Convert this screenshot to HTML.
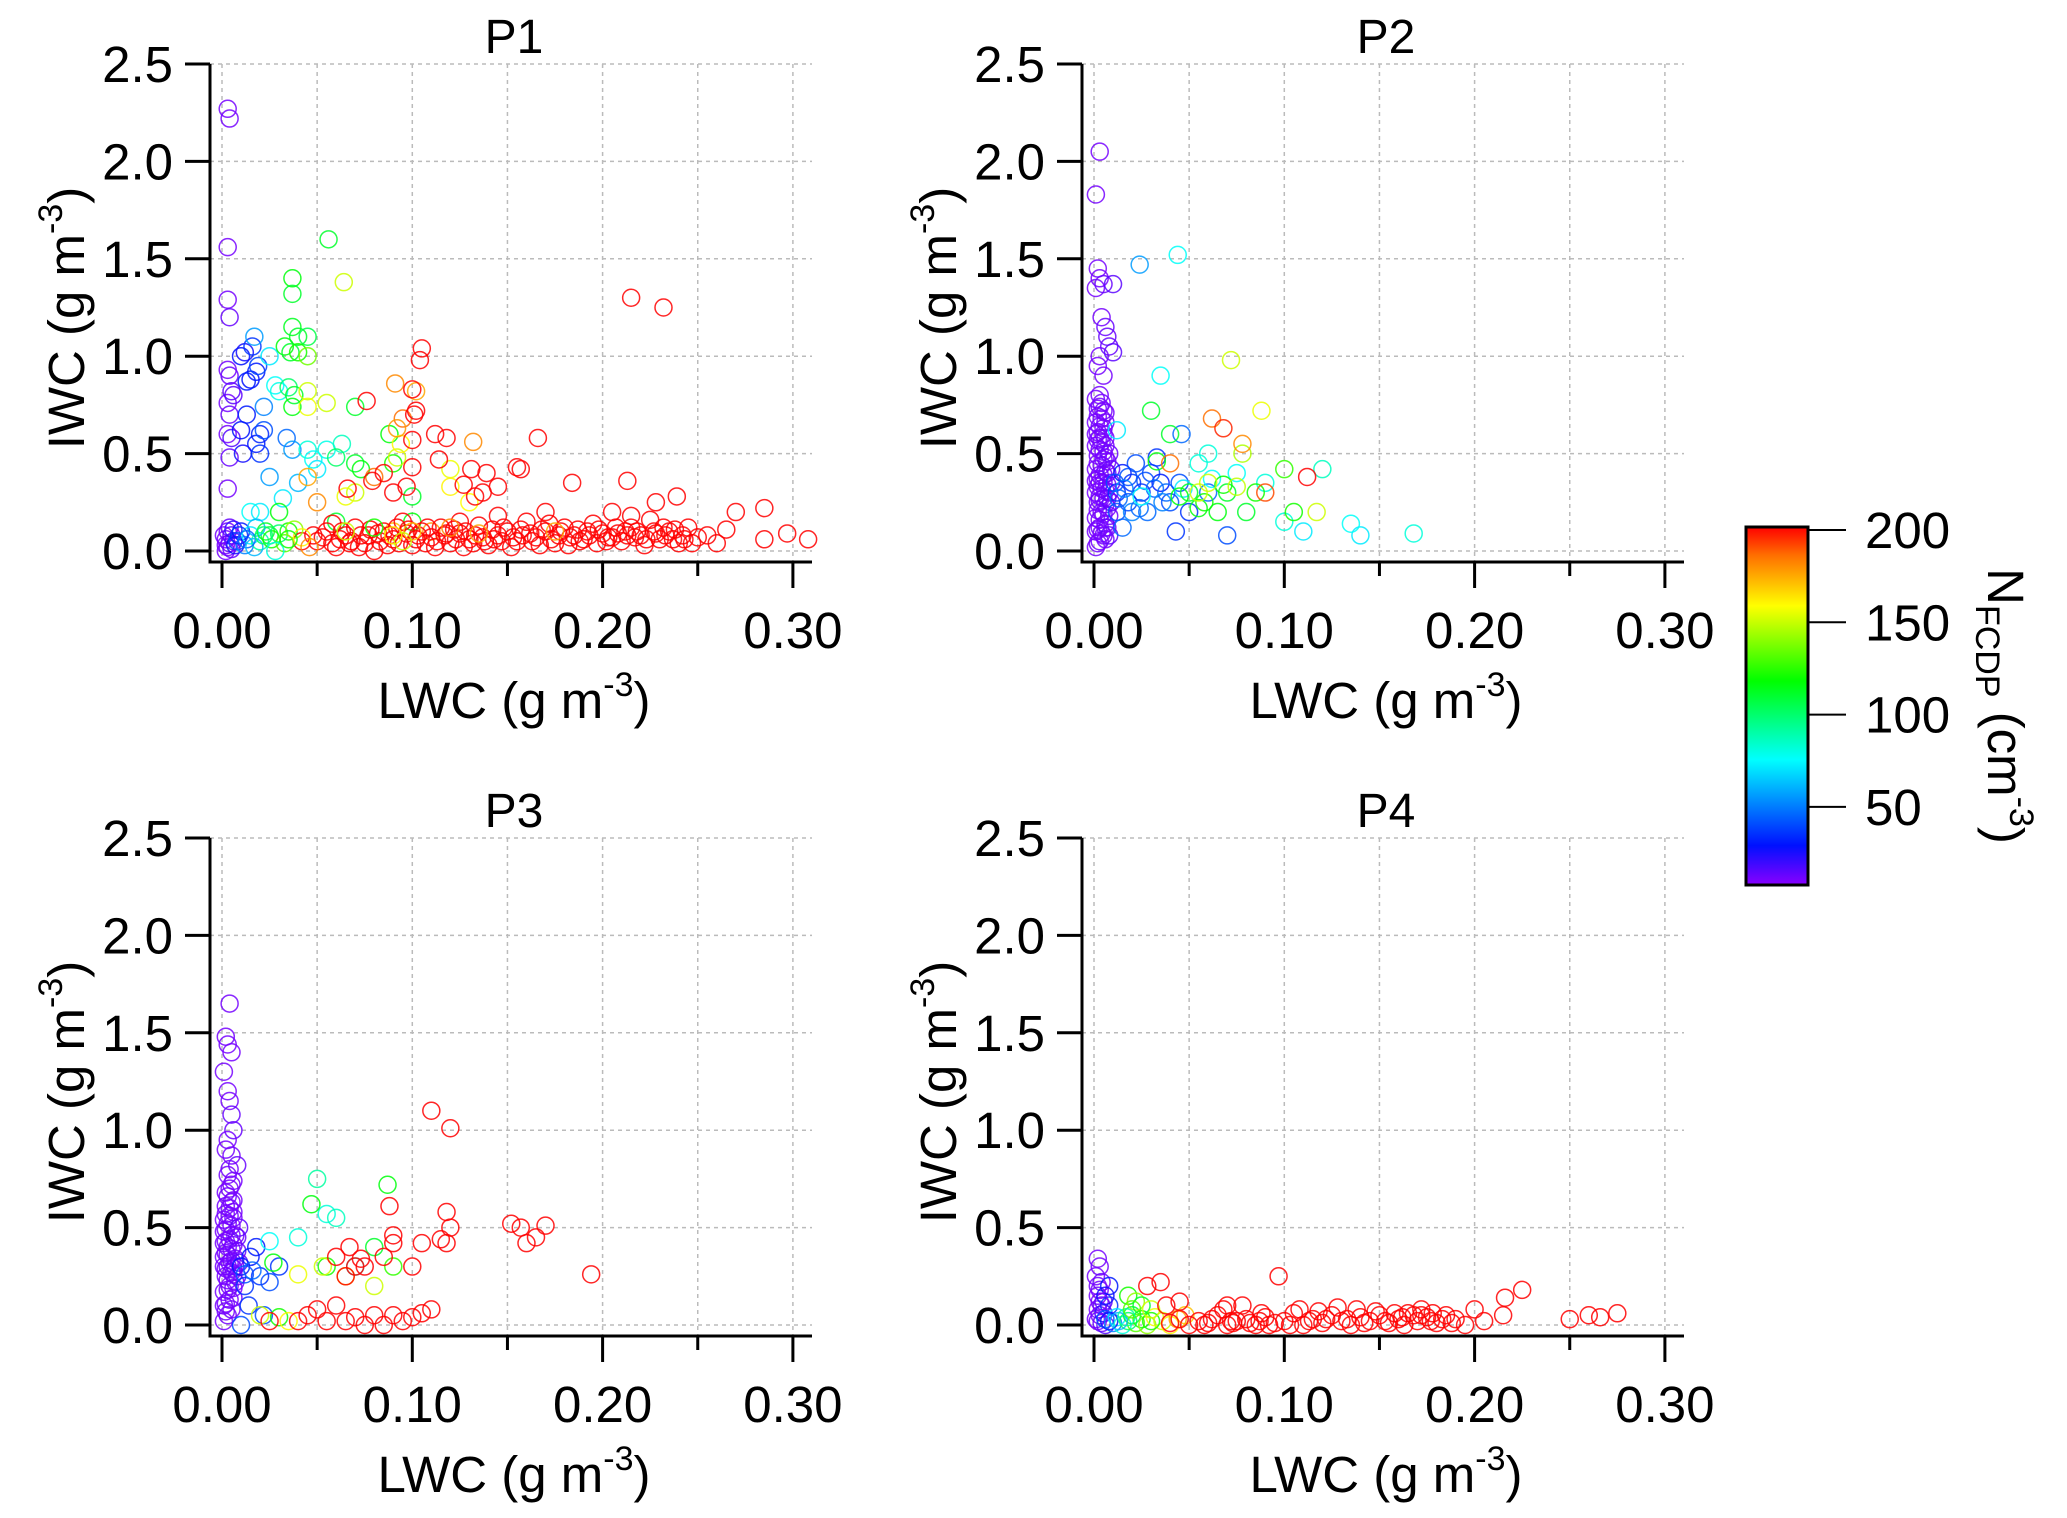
<!DOCTYPE html>
<html><head><meta charset="utf-8"><style>
html,body{margin:0;padding:0;background:#fff;}
svg{display:block;font-family:"Liberation Sans",Arial,sans-serif;}
</style></head><body>
<svg id="chart" width="2067" height="1518" viewBox="0 0 2067 1518">
<defs>
<linearGradient id="rainbow" x1="0" y1="1" x2="0" y2="0">
<stop offset="0" stop-color="#8a00ff"/><stop offset="0.11" stop-color="#0010ff"/><stop offset="0.35" stop-color="#00ffff"/><stop offset="0.57" stop-color="#00ff00"/><stop offset="0.78" stop-color="#ffff00"/><stop offset="0.92" stop-color="#ff7000"/><stop offset="1" stop-color="#ff0000"/>
</linearGradient>
</defs>
</svg>
<script>
const xTicks=[0,0.10,0.20,0.30];
const xTickLabels=["0.00","0.10","0.20","0.30"];
const xMinor=[0.05,0.15,0.25];
const yTicks=[0,0.5,1.0,1.5,2.0,2.5];
const yTickLabels=["0.0","0.5","1.0","1.5","2.0","2.5"];
const panelTitles=["P1","P2","P3","P4"];
const cbTicks=[50,100,150,200];
// points: [LWC, IWC, N_FCDP]
const p1Points=[
[0.003,2.27,10],[0.004,2.22,10],[0.003,1.56,10],[0.003,1.29,10],[0.004,1.2,12],[0.003,0.32,10],[0.004,0.48,12],[0.003,0.6,10],[0.004,0.7,12],[0.003,0.76,10],[0.005,0.82,14],[0.004,0.9,12],[0.003,0.93,10],[0.005,0.58,15],[0.006,0.8,14],
[0.010,1.0,28],[0.012,1.02,25],[0.016,1.05,35],[0.018,0.92,30],[0.015,0.88,28],[0.02,0.6,32],[0.018,0.55,30],[0.011,0.5,25],[0.01,0.62,28],[0.013,0.7,30],[0.022,0.62,40],[0.02,0.5,35],[0.019,0.95,38],[0.013,0.87,30],
[0.017,1.1,55],[0.025,1.0,70],[0.028,0.85,75],[0.03,0.82,78],[0.022,0.74,50],[0.034,0.58,45],[0.037,0.52,55],[0.025,0.38,55],[0.04,0.35,60],[0.032,0.27,70],[0.045,0.52,80],[0.048,0.47,75],[0.05,0.42,70],[0.055,0.52,78],[0.063,0.55,85],[0.02,0.2,70],[0.015,0.2,75],
[0.056,1.6,110],[0.037,1.4,115],[0.037,1.32,110],[0.037,1.15,112],[0.04,1.1,110],[0.045,1.1,105],[0.033,1.05,115],[0.036,1.02,110],[0.04,1.02,120],[0.045,1.0,135],[0.035,0.84,100],[0.038,0.8,110],[0.037,0.74,115],[0.07,0.74,110],[0.06,0.48,100],[0.07,0.45,110],[0.073,0.42,115],[0.088,0.6,115],[0.09,0.45,120],[0.03,0.2,115],[0.035,0.1,120],[0.025,0.08,110],[0.06,0.15,110],[0.1,0.15,115],[0.1,0.28,110],
[0.064,1.38,150],[0.045,0.82,150],[0.045,0.74,155],[0.055,0.76,150],[0.07,0.3,150],[0.065,0.28,155],[0.092,0.48,150],[0.12,0.42,155],[0.12,0.33,160],[0.094,0.55,160],[0.13,0.25,158],
[0.091,0.86,180],[0.102,0.82,175],[0.132,0.56,180],[0.095,0.68,185],[0.092,0.63,178],[0.045,0.38,175],[0.05,0.25,180],[0.08,0.38,185],[0.11,0.1,178],[0.09,0.1,170],
[0.215,1.3,205],[0.232,1.25,205],[0.105,1.04,205],[0.104,0.98,205],[0.1,0.83,205],[0.076,0.77,205],[0.102,0.72,205],[0.101,0.7,205],[0.1,0.57,205],[0.112,0.6,205],[0.118,0.58,205],[0.166,0.58,205],[0.157,0.42,205],[0.155,0.43,205],[0.114,0.47,205],[0.1,0.43,205],[0.131,0.42,205],[0.139,0.4,205],[0.145,0.33,205],[0.127,0.34,205],[0.097,0.33,205],[0.066,0.32,205],[0.079,0.36,205],[0.085,0.4,205],[0.184,0.35,205],[0.213,0.36,205],[0.239,0.28,205],[0.133,0.28,205],[0.137,0.3,205],[0.09,0.3,205],
[0.05,0.05,205],[0.055,0.1,205],[0.06,0.02,205],[0.065,0.08,205],[0.07,0.12,205],[0.075,0.04,205],[0.08,0.0,205],[0.085,0.1,205],[0.09,0.06,205],[0.095,0.15,205],[0.1,0.03,205],[0.105,0.1,205],[0.11,0.07,205],[0.115,0.12,205],[0.12,0.04,205],[0.125,0.09,205],[0.13,0.06,205],[0.135,0.13,205],[0.14,0.03,205],[0.145,0.08,205],[0.15,0.1,205],[0.155,0.05,205],[0.16,0.15,205],[0.165,0.07,205],[0.17,0.1,205],[0.175,0.04,205],[0.18,0.12,205],[0.185,0.08,205],[0.19,0.06,205],[0.195,0.14,205],[0.2,0.09,205],[0.205,0.2,205],[0.21,0.05,205],[0.215,0.12,205],[0.22,0.08,205],[0.225,0.16,205],[0.23,0.06,205],[0.235,0.1,205],[0.24,0.04,205],[0.245,0.12,205],[0.25,0.07,205],[0.255,0.08,205],[0.26,0.04,205],[0.265,0.11,205],[0.27,0.2,205],[0.285,0.06,205],[0.285,0.22,205],[0.297,0.09,205],[0.308,0.06,205],
[0.062,0.06,205],[0.072,0.02,205],[0.082,0.09,205],[0.092,0.12,205],[0.102,0.06,205],[0.112,0.02,205],[0.122,0.11,205],[0.132,0.04,205],[0.142,0.11,205],[0.152,0.02,205],[0.162,0.09,205],[0.172,0.14,205],[0.182,0.03,205],[0.192,0.1,205],[0.202,0.05,205],[0.212,0.1,205],[0.222,0.03,205],[0.232,0.12,205],[0.242,0.08,205],[0.205,0.07,205],[0.215,0.18,205],[0.228,0.25,205],[0.17,0.2,205],[0.125,0.15,205],[0.145,0.18,205],[0.058,0.14,205],[0.048,0.08,205],[0.042,0.05,205],
[0.067,0.04,205],[0.077,0.08,205],[0.087,0.03,205],[0.097,0.09,205],[0.107,0.04,205],[0.117,0.08,205],[0.127,0.02,205],[0.137,0.07,205],[0.147,0.05,205],[0.157,0.11,205],[0.167,0.03,205],[0.177,0.08,205],[0.187,0.11,205],[0.197,0.04,205],[0.207,0.12,205],[0.217,0.07,205],[0.227,0.1,205],[0.237,0.06,205],[0.247,0.04,205],
[0.053,0.07,205],[0.058,0.04,205],[0.063,0.1,205],[0.068,0.05,205],[0.073,0.08,205],[0.078,0.11,205],[0.083,0.05,205],[0.088,0.08,205],[0.093,0.04,205],[0.098,0.11,205],[0.103,0.08,205],[0.108,0.12,205],[0.113,0.05,205],[0.118,0.09,205],[0.123,0.06,205],[0.128,0.1,205],[0.133,0.08,205],[0.138,0.05,205],[0.143,0.06,205],[0.148,0.12,205],[0.153,0.07,205],[0.158,0.08,205],[0.163,0.05,205],[0.168,0.11,205],[0.173,0.06,205],[0.178,0.1,205],[0.183,0.07,205],[0.188,0.05,205],[0.193,0.08,205],[0.198,0.11,205],[0.203,0.07,205],[0.208,0.09,205],[0.213,0.08,205],[0.218,0.1,205],[0.223,0.06,205],[0.228,0.09,205],[0.233,0.08,205],[0.238,0.11,205],[0.243,0.06,205],
[0.002,0.0,10],[0.003,0.02,10],[0.004,0.04,12],[0.002,0.06,10],[0.005,0.08,14],[0.003,0.1,10],[0.004,0.12,12],[0.006,0.05,15],[0.002,0.03,10],[0.005,0.01,12],[0.001,0.08,10],[0.006,0.11,20],[0.007,0.03,25],
[0.008,0.05,40],[0.01,0.1,30],[0.012,0.03,50],[0.015,0.08,70],[0.018,0.12,60],[0.02,0.05,90],[0.023,0.1,110],[0.026,0.06,120],[0.03,0.09,100],[0.033,0.04,130],[0.038,0.11,140],[0.042,0.07,160],[0.046,0.02,180],[0.028,0.0,80],[0.009,0.08,35],[0.013,0.06,45],[0.017,0.02,60],[0.022,0.08,100],[0.035,0.06,120],
[0.1,0.1,170],[0.09,0.08,160],[0.12,0.12,180],[0.175,0.1,175],[0.08,0.12,120],[0.065,0.1,150],[0.095,0.05,150],[0.135,0.09,175]
];
const p2Points=[
[0.003,2.05,10],[0.001,1.83,10],[0.002,1.45,10],[0.003,1.4,10],[0.001,1.35,10],[0.005,1.37,12],[0.01,1.37,14],[0.004,1.2,10],[0.006,1.15,12],[0.007,1.1,12],[0.008,1.05,12],[0.01,1.02,14],[0.003,1.0,10],[0.002,0.95,10],[0.005,0.9,10],
[0.001,0.02,10],[0.003,0.05,10],[0.005,0.08,10],[0.002,0.11,10],[0.006,0.14,10],[0.001,0.17,10],[0.004,0.2,10],[0.007,0.22,10],[0.002,0.25,10],[0.005,0.27,10],[0.001,0.3,10],[0.004,0.32,10],[0.007,0.34,10],[0.002,0.37,10],[0.005,0.39,10],[0.001,0.42,10],[0.004,0.44,10],[0.007,0.46,10],[0.002,0.49,10],[0.005,0.51,10],[0.001,0.54,10],[0.004,0.56,10],[0.006,0.58,10],[0.002,0.61,10],[0.005,0.63,10],[0.001,0.66,10],[0.004,0.68,10],[0.006,0.71,10],[0.002,0.73,10],[0.004,0.76,10],[0.003,0.8,10],[0.008,0.3,12],[0.008,0.18,12],[0.009,0.42,14],[0.003,0.12,10],[0.006,0.06,10],[0.003,0.35,10],[0.006,0.48,10],[0.003,0.58,10],[0.003,0.26,10],[0.008,0.08,14],
[0.002,0.04,10],[0.004,0.09,10],[0.006,0.12,10],[0.003,0.16,10],[0.005,0.19,10],[0.002,0.21,10],[0.006,0.24,10],[0.003,0.28,10],[0.006,0.31,10],[0.002,0.33,10],[0.005,0.35,10],[0.003,0.39,10],[0.006,0.41,10],[0.002,0.45,10],[0.005,0.47,10],[0.003,0.52,10],[0.006,0.54,10],[0.002,0.57,10],[0.005,0.6,10],[0.003,0.64,10],[0.006,0.66,10],[0.002,0.69,10],[0.005,0.72,10],[0.003,0.74,10],[0.001,0.78,10],[0.007,0.27,12],[0.007,0.4,12],[0.008,0.5,12],[0.007,0.12,12],[0.009,0.25,14],[0.009,0.35,14],[0.001,0.1,10],[0.001,0.36,10],[0.001,0.6,10],
[0.012,0.3,35],[0.015,0.4,30],[0.018,0.25,40],[0.02,0.35,35],[0.022,0.45,40],[0.025,0.3,35],[0.028,0.2,45],[0.03,0.4,40],[0.033,0.48,35],[0.035,0.35,30],[0.038,0.3,45],[0.04,0.25,40],[0.043,0.1,35],[0.046,0.6,45],[0.045,0.35,40],[0.05,0.2,35],[0.06,0.3,45],[0.07,0.08,40],[0.012,0.2,40],[0.015,0.12,45],[0.02,0.2,50],[0.011,0.35,40],[0.013,0.27,45],[0.016,0.32,50],[0.018,0.38,40],[0.024,0.22,45],[0.027,0.36,40],[0.032,0.32,45],[0.036,0.25,50],
[0.024,1.47,55],[0.044,1.52,75],[0.035,0.9,75],[0.06,0.5,80],[0.075,0.4,75],[0.09,0.35,80],[0.12,0.42,85],[0.11,0.1,70],[0.14,0.08,70],[0.168,0.09,80],[0.135,0.14,75],[0.1,0.15,80],[0.055,0.45,80],[0.012,0.62,70],[0.025,0.28,75],[0.047,0.32,70],[0.062,0.37,75],
[0.05,0.3,110],[0.058,0.25,120],[0.065,0.2,115],[0.07,0.3,110],[0.08,0.2,110],[0.085,0.3,120],[0.1,0.42,125],[0.105,0.2,120],[0.03,0.72,110],[0.04,0.6,110],[0.033,0.46,115],[0.045,0.28,115],[0.055,0.22,115],[0.068,0.34,118],
[0.072,0.98,150],[0.088,0.72,155],[0.117,0.2,150],[0.078,0.5,145],[0.06,0.35,150],[0.055,0.3,150],[0.075,0.33,148],
[0.062,0.68,185],[0.068,0.63,195],[0.078,0.55,180],[0.112,0.38,200],[0.09,0.3,190],[0.04,0.45,185]
];
const p3Points=[
[0.004,1.65,10],[0.002,1.48,10],[0.003,1.44,10],[0.005,1.4,10],[0.001,1.3,10],[0.003,1.2,10],[0.004,1.15,10],[0.005,1.08,12],[0.006,1.0,12],[0.003,0.95,10],[0.002,0.9,10],[0.005,0.87,10],[0.008,0.82,12],[0.004,0.8,10],
[0.001,0.02,10],[0.003,0.05,10],[0.005,0.08,10],[0.002,0.11,10],[0.006,0.14,10],[0.001,0.17,10],[0.004,0.2,10],[0.007,0.22,10],[0.002,0.25,10],[0.005,0.27,10],[0.001,0.3,10],[0.004,0.32,10],[0.007,0.34,10],[0.002,0.37,10],[0.005,0.39,10],[0.001,0.42,10],[0.004,0.44,10],[0.007,0.46,10],[0.002,0.49,10],[0.005,0.51,10],[0.001,0.54,10],[0.004,0.56,10],[0.006,0.58,10],[0.002,0.61,10],[0.005,0.63,10],[0.003,0.66,10],[0.004,0.7,10],[0.006,0.74,10],[0.003,0.3,10],[0.003,0.18,10],[0.008,0.45,12],[0.009,0.5,14],[0.003,0.4,10],[0.006,0.29,10],
[0.002,0.07,10],[0.004,0.13,10],[0.006,0.19,10],[0.003,0.23,10],[0.006,0.26,10],[0.002,0.29,10],[0.005,0.33,10],[0.003,0.36,10],[0.006,0.41,10],[0.002,0.43,10],[0.005,0.46,10],[0.003,0.52,10],[0.006,0.55,10],[0.002,0.57,10],[0.004,0.6,10],[0.006,0.64,10],[0.002,0.68,10],[0.005,0.72,10],[0.003,0.77,10],[0.007,0.3,12],[0.008,0.38,12],[0.008,0.25,12],[0.009,0.32,14],[0.001,0.1,10],[0.001,0.35,10],[0.001,0.48,10],
[0.01,0.3,30],[0.012,0.2,35],[0.015,0.35,30],[0.02,0.25,35],[0.025,0.22,40],[0.018,0.4,30],[0.03,0.3,35],[0.022,0.05,40],[0.01,0.0,40],[0.014,0.1,35],[0.012,0.26,40],[0.016,0.28,45],
[0.025,0.43,75],[0.055,0.57,80],[0.06,0.55,85],[0.07,0.3,80],[0.05,0.75,90],[0.04,0.45,80],
[0.047,0.62,115],[0.087,0.72,115],[0.055,0.3,120],[0.08,0.4,110],[0.09,0.3,125],[0.03,0.04,120],[0.027,0.32,115],
[0.053,0.3,150],[0.065,0.25,155],[0.08,0.2,150],[0.02,0.05,150],[0.035,0.02,160],[0.04,0.26,155],
[0.11,1.1,205],[0.12,1.01,205],[0.088,0.61,205],[0.118,0.58,205],[0.12,0.5,205],[0.118,0.42,205],[0.105,0.42,205],[0.115,0.44,205],[0.152,0.52,205],[0.157,0.5,205],[0.16,0.42,205],[0.165,0.45,205],[0.17,0.51,205],[0.194,0.26,205],[0.09,0.46,205],[0.09,0.42,205],[0.085,0.35,205],[0.075,0.3,205],[0.07,0.3,205],[0.065,0.25,205],[0.06,0.1,205],[0.05,0.08,205],[0.045,0.05,205],[0.04,0.02,205],[0.065,0.02,205],[0.07,0.04,205],[0.08,0.05,205],[0.085,0.0,205],[0.09,0.05,205],[0.1,0.04,205],[0.105,0.06,205],[0.11,0.08,205],[0.095,0.02,205],[0.1,0.3,205],[0.06,0.35,205],[0.025,0.02,205],[0.055,0.02,205],[0.075,0.0,205],[0.067,0.4,205],[0.073,0.34,205]
];
const p4Points=[
[0.002,0.34,10],[0.003,0.3,10],[0.001,0.25,10],[0.004,0.22,12],[0.003,0.18,10],[0.002,0.15,10],[0.005,0.12,14],[0.004,0.1,12],[0.002,0.08,10],[0.003,0.05,10],[0.001,0.03,10],[0.004,0.01,12],[0.006,0.0,15],[0.008,0.2,30],[0.008,0.1,35],[0.002,0.2,10],[0.003,0.12,10],[0.005,0.06,20],[0.002,0.02,10],[0.006,0.15,25],
[0.006,0.03,40],[0.01,0.01,50],[0.012,0.04,70],[0.015,0.0,80],[0.018,0.02,100],[0.02,0.05,110],[0.022,0.01,130],[0.025,0.03,120],[0.028,0.0,140],[0.032,0.04,155],[0.036,0.02,150],[0.04,0.0,160],[0.044,0.03,175],[0.048,0.05,170],[0.008,0.02,30],[0.013,0.02,60],[0.017,0.04,90],[0.03,0.02,120],
[0.018,0.15,120],[0.022,0.12,140],[0.025,0.1,110],[0.03,0.08,150],[0.02,0.08,130],
[0.097,0.25,205],[0.225,0.18,205],[0.216,0.14,205],[0.275,0.06,205],[0.26,0.05,205],[0.25,0.03,205],[0.266,0.04,205],[0.035,0.22,205],[0.028,0.2,205],[0.045,0.12,205],[0.07,0.1,205],[0.038,0.1,205],[0.215,0.05,205],[0.2,0.08,205],
[0.04,0.01,205],[0.045,0.03,205],[0.05,0.0,205],[0.055,0.02,205],[0.06,0.01,205],[0.065,0.05,205],[0.07,0.0,205],[0.075,0.02,205],[0.08,0.03,205],[0.085,0.0,205],[0.09,0.04,205],[0.095,0.01,205],[0.1,0.02,205],[0.105,0.06,205],[0.11,0.0,205],[0.115,0.03,205],[0.12,0.01,205],[0.125,0.05,205],[0.13,0.02,205],[0.135,0.0,205],[0.14,0.04,205],[0.145,0.02,205],[0.15,0.05,205],[0.155,0.01,205],[0.16,0.03,205],[0.165,0.06,205],[0.17,0.02,205],[0.175,0.04,205],[0.18,0.01,205],[0.185,0.05,205],[0.19,0.03,205],[0.195,0.0,205],[0.205,0.02,205],
[0.068,0.08,205],[0.078,0.1,205],[0.088,0.06,205],[0.108,0.08,205],[0.118,0.07,205],[0.128,0.09,205],[0.138,0.08,205],[0.148,0.07,205],[0.158,0.06,205],[0.168,0.05,205],[0.172,0.08,205],[0.178,0.06,205],[0.183,0.03,205],[0.062,0.03,205],[0.072,0.02,205],[0.082,0.01,205],[0.092,0.0,205],[0.122,0.03,205],[0.142,0.01,205],
[0.058,0.0,205],[0.073,0.01,205],[0.087,0.02,205],[0.103,0.0,205],[0.113,0.02,205],[0.133,0.03,205],[0.153,0.02,205],[0.163,0.0,205],[0.177,0.02,205],[0.188,0.01,205],[0.162,0.04,205],[0.172,0.05,205]
];
const allPoints=[p1Points,p2Points,p3Points,p4Points];
const NS="http://www.w3.org/2000/svg";
const svg=document.getElementById('chart');
function mk(tag,attrs,parent){const e=document.createElementNS(NS,tag);for(const k in attrs)e.setAttribute(k,attrs[k]);(parent||svg).appendChild(e);return e;}
const stops=[[7,[138,0,255]],[28,[0,16,255]],[74,[0,255,255]],[117,[0,255,0]],[158,[255,255,0]],[185,[255,112,0]],[200,[255,0,0]]];
function colorOf(n){if(n<=stops[0][0])return 'rgb('+stops[0][1]+')';for(let i=1;i<stops.length;i++){if(n<=stops[i][0]){const t=(n-stops[i-1][0])/(stops[i][0]-stops[i-1][0]);const a=stops[i-1][1],b=stops[i][1];return 'rgb('+a.map((v,j)=>Math.round(v+(b[j]-v)*t)).join(',')+')';}}return 'rgb(255,0,0)';}
const offsets=[[0,0],[872,0],[0,774],[872,774]];
offsets.forEach((off,pi)=>{
  const ox=off[0],oy=off[1];
  const xS=v=>ox+222+v*1903;
  const yS=v=>oy+551-v*194.8;
  const g=mk('g',{});
  
  
  [0,0.05,0.10,0.15,0.20,0.25,0.30].forEach(v=>{const l=mk('line',{x1:xS(v),x2:xS(v),y1:oy+64,y2:oy+562,stroke:'#bbb','stroke-width':1.5,'stroke-dasharray':'4 4'},g);});
  yTicks.forEach(v=>{const l=mk('line',{x1:ox+210,x2:ox+812,y1:yS(v),y2:yS(v),stroke:'#bbb','stroke-width':1.5,'stroke-dasharray':'4 4'},g);});
  const pts=mk('g',{},g);
  
  
  allPoints[pi].forEach(p=>{const c=mk('circle',{cx:xS(p[0]),cy:yS(p[1]),r:8.5,fill:'none',stroke:colorOf(p[2]),'stroke-width':1.5,'stroke-opacity':0.85},pts);});
  const ax=mk('path',{d:`M${ox+210} ${oy+64} V${oy+562} H${ox+812}`,fill:'none',stroke:'#000','stroke-width':3},g);
  
  yTicks.forEach((v,i)=>{
    const t=mk('line',{x1:ox+185,x2:ox+210,y1:yS(v),y2:yS(v),stroke:'#000','stroke-width':3},g);
    const tx=mk('text',{x:ox+173,y:yS(v)+18,'text-anchor':'end','font-size':51},g);tx.textContent=yTickLabels[i];
  });
  xTicks.forEach((v,i)=>{
    const t=mk('line',{x1:xS(v),x2:xS(v),y1:oy+562,y2:oy+588,stroke:'#000','stroke-width':3},g);
    const tx=mk('text',{x:xS(v),y:oy+648,'text-anchor':'middle','font-size':51},g);tx.textContent=xTickLabels[i];
  });
  xMinor.forEach(v=>{const t=mk('line',{x1:xS(v),x2:xS(v),y1:oy+562,y2:oy+576,stroke:'#000','stroke-width':3},g);});
  const ti=mk('text',{x:ox+514,y:oy+53,'text-anchor':'middle','font-size':48},g);ti.textContent=panelTitles[pi];
  const xt=mk('text',{x:ox+514,y:oy+718,'text-anchor':'middle','font-size':51},g);
  xt.innerHTML='LWC (g m<tspan dy="-22" font-size="34">-3</tspan><tspan dy="22">)</tspan>';
  
  const yt=mk('text',{x:0,y:0,'text-anchor':'middle','font-size':51,transform:`translate(${ox+84},${oy+318}) rotate(-90)`},g);
  yt.innerHTML='IWC (g m<tspan dy="-22" font-size="34">-3</tspan><tspan dy="22">)</tspan>';
  
});
const cb=mk('g',{});


const cbY=v=>530+(200-v)*1.846;
const rect=mk('rect',{x:1746,y:527,width:62,height:358,fill:'url(#rainbow)',stroke:'#000','stroke-width':3},cb);

cbTicks.forEach(v=>{
  const t=mk('line',{x1:1808,x2:1846,y1:cbY(v),y2:cbY(v),stroke:'#000','stroke-width':2},cb);
  const tx=mk('text',{x:1865,y:cbY(v)+18,'font-size':51},cb);tx.textContent=String(v);
});
const ct=mk('text',{x:0,y:0,'text-anchor':'middle','font-size':51,transform:'translate(1988,706) rotate(90)'},cb);
ct.innerHTML='N<tspan dy="12" font-size="34">FCDP</tspan><tspan dy="-12"> (cm</tspan><tspan dy="-22" font-size="34">-3</tspan><tspan dy="22">)</tspan>';

</script>
</body></html>
